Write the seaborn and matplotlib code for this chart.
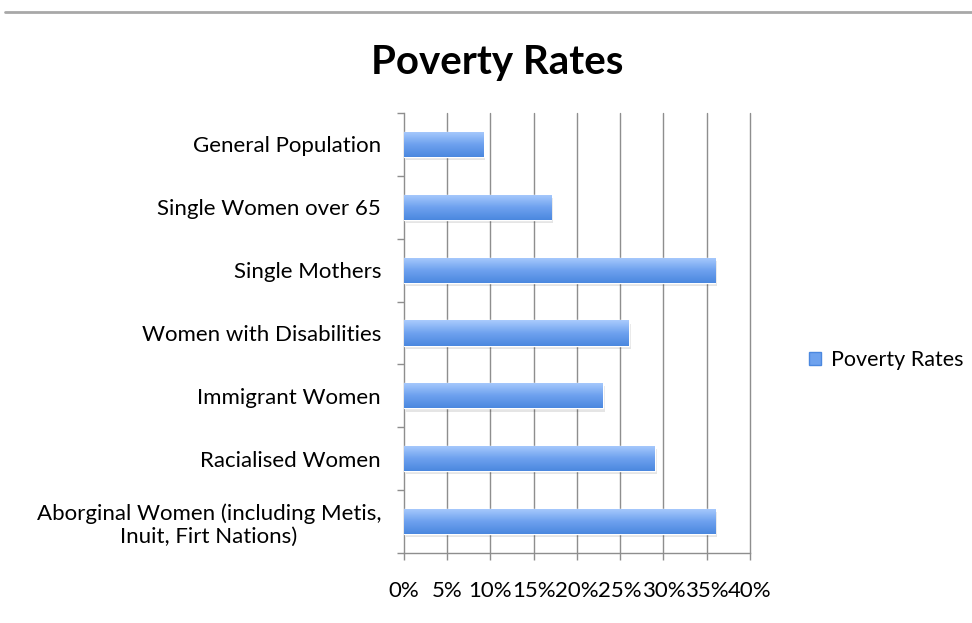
# Tasas de pobreza - barras horizontales estilo Excel

import numpy as np
import pandas as pd
import matplotlib
matplotlib.use('Agg')
import matplotlib.pyplot as plt
import matplotlib.patches as mpatches
import matplotlib.lines as mlines
from matplotlib.colors import LinearSegmentedColormap
import seaborn as sns

#== datos

grupos = ['General Population',
          'Single Women over 65',
          'Single Mothers',
          'Women with Disabilities',
          'Immigrant Women',
          'Racialised Women',
          'Aborginal Women (including Metis,\nInuit, Firt Nations)']
tasas = [9.2, 17.0, 36.0, 26.0, 23.0, 29.0, 36.0]
ticks_x = [0, 5, 10, 15, 20, 25, 30, 35, 40]
serie = 'Poverty Rates'

df = pd.DataFrame({'grupo': grupos, 'tasa': tasas})

#== figura

sns.set_theme(style='white')
plt.rcParams['font.family'] = ['Lato', 'DejaVu Sans']
plt.rcParams['text.color'] = 'black'

fig = plt.figure(figsize=(9.72, 6.23), dpi=100)
ax = fig.add_axes([0.4156, 0.1124, 0.356, 0.7063])

ax = sns.barplot(data=df, x='tasa', y='grupo', orient='h', width=0.4,
                 color='#6ea2ee', ax=ax, zorder=3)

# degradado en las barras (claro arriba, oscuro abajo)
cmap = LinearSegmentedColormap.from_list('azul', ['#a9cbfd', '#6fa2ef', '#4b88df'])
grad = np.linspace(0, 1, 64).reshape(-1, 1)
for p in ax.patches:
    x0, y0 = p.get_x(), p.get_y()
    w, h = p.get_width(), p.get_height()
    # sombra suave
    sh = mpatches.Rectangle((x0 + 0.2, y0 + 0.05), w, h, color='#000000',
                            alpha=0.10, zorder=2, linewidth=0)
    ax.add_patch(sh)
    im = ax.imshow(grad, cmap=cmap, aspect='auto', zorder=4,
                   extent=(x0, x0 + w, y0 + h, y0), origin='upper')
    im.set_clip_path(p)
    p.set_facecolor('none')

ax.set_xlim(0, 40)
ax.set_ylim(len(grupos) - 0.5, -0.5)
ax.set_xticks(ticks_x)
ax.set_xticklabels([f'{t}%' for t in ticks_x])
ax.set_xlabel('')
ax.set_ylabel('')

# rejilla vertical
for t in ticks_x[1:]:
    ax.axvline(t, color='#8e8e8e', linewidth=1.0, zorder=1, clip_on=False)

for s in ['top', 'right']:
    ax.spines[s].set_visible(False)
for s in ['left', 'bottom']:
    ax.spines[s].set_color('#8e8e8e')
    ax.spines[s].set_linewidth(1.0)

# marcas de categoría en los límites
ax.set_yticks(np.arange(-0.5, len(grupos), 1), minor=True)
ax.tick_params(axis='y', which='major', length=0, pad=16.5, labelsize=16,
               labelcolor='black')
ax.tick_params(axis='y', which='minor', left=True, length=5, width=1.0,
               color='#8e8e8e')
ax.tick_params(axis='x', which='major', bottom=True, length=5, width=1.0,
               color='#8e8e8e', pad=15, labelsize=16, labelcolor='black')
for lab in ax.get_yticklabels():
    lab.set_multialignment('center')

# título
fig.text(0.511, 0.90, serie, ha='center', va='center', fontsize=29,
         fontweight='bold', color='black')

# leyenda
h_leg = mpatches.Patch(facecolor='#6ea2ee', edgecolor='#4b88df', label=serie)
fig.legend(handles=[h_leg], loc='center left', bbox_to_anchor=(0.8235, 0.422),
           frameon=False, fontsize=15.5, handlelength=0.55, handleheight=0.55,
           handletextpad=0.45, borderpad=0.2, borderaxespad=0.2)

# línea gris superior
fig.add_artist(mlines.Line2D([0.005, 1.0], [0.981, 0.981], color='#a8a8a8',
                             linewidth=2))

plt.savefig('out.png', dpi=100)
plt.close('all')
